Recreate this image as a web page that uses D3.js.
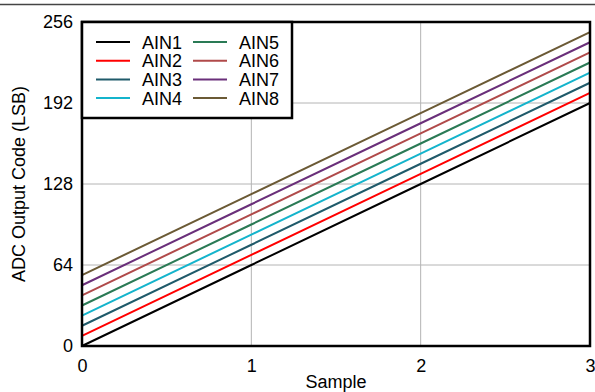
<!DOCTYPE html>
<html><head><meta charset="utf-8">
<script src="https://cdn.jsdelivr.net/npm/d3@7"></script>
<style>body{margin:0;background:#fff}svg{display:block;font-family:"Liberation Sans",Arial,sans-serif}</style>
</head><body><svg id="c" width="595" height="392"></svg>
<script>
const samples = [0, 1, 2, 3];
const seriesNames = ["AIN1","AIN2","AIN3","AIN4","AIN5","AIN6","AIN7","AIN8"];
const seriesColors = ["#000000","#ff0000","#1f5a6a","#14b4cc","#2a7a55","#b04a4a","#6a2f7a","#6b5a35"];
const AIN1 = [0, 64, 128, 192];
const AIN2 = [8, 72, 136, 200];
const AIN3 = [16, 80, 144, 208];
const AIN4 = [24, 88, 152, 216];
const AIN5 = [32, 96, 160, 224];
const AIN6 = [40, 104, 168, 232];
const AIN7 = [48, 112, 176, 240];
const AIN8 = [56, 120, 184, 248];
const seriesValues = [AIN1, AIN2, AIN3, AIN4, AIN5, AIN6, AIN7, AIN8];
const xTicks = [0, 1, 2, 3];
const yTicks = [0, 64, 128, 192, 256];

const svg = d3.select("#c");
const L = 82, R = 590, T = 22, B = 346;
const x = d3.scaleLinear().domain([0, 3]).range([L, R]);
const y = d3.scaleLinear().domain([0, 256]).range([B, T]);
const fs = 18;
const ff = "'Liberation Sans', Arial, sans-serif";

// top rule
svg.append("line").attr("x1", 0).attr("x2", 595).attr("y1", 4.5).attr("y2", 4.5)
  .attr("stroke", "#444").attr("stroke-width", 1.5);

// grid
svg.append("g").selectAll("line").data(xTicks.slice(1, -1)).join("line")
  .attr("x1", d => x(d)).attr("x2", d => x(d)).attr("y1", T).attr("y2", B)
  .attr("stroke", "#b4b4b4").attr("stroke-width", 1);
svg.append("g").selectAll("line").data(yTicks.slice(1, -1)).join("line")
  .attr("x1", L).attr("x2", R).attr("y1", d => y(d)).attr("y2", d => y(d))
  .attr("stroke", "#b4b4b4").attr("stroke-width", 1);

// series
const line = d3.line().x((d, i) => x(samples[i])).y(d => y(d));
svg.append("g").selectAll("path").data(seriesValues).join("path")
  .attr("d", d => line(d)).attr("fill", "none")
  .attr("stroke", (d, i) => seriesColors[i]).attr("stroke-width", 2);

// axes
const xAxis = svg.append("g").attr("transform", `translate(0,${B})`)
  .call(d3.axisBottom(x).tickValues(xTicks).tickSize(0).tickPadding(13).tickFormat(d3.format("d")));
const yAxis = svg.append("g").attr("transform", `translate(${L},0)`)
  .call(d3.axisLeft(y).tickValues(yTicks).tickSize(0).tickPadding(9).tickFormat(d3.format("d")));
[xAxis, yAxis].forEach(a => {
  a.select(".domain").remove();
  a.selectAll("text").attr("font-size", fs).attr("fill", "#000").attr("font-family", ff);
});

// frame
svg.append("rect").attr("x", L).attr("y", T).attr("width", R - L).attr("height", B - T)
  .attr("fill", "none").attr("stroke", "#000").attr("stroke-width", 2.5);

// axis titles
svg.append("text").attr("x", (L + R) / 2).attr("y", 388).attr("text-anchor", "middle")
  .attr("font-family", ff).attr("font-size", fs).text("Sample");
svg.append("text").attr("transform", `translate(25,${(T + B) / 2}) rotate(-90)`)
  .attr("text-anchor", "middle").attr("font-family", ff).attr("font-size", fs).text("ADC Output Code (LSB)");

// legend
const lg = svg.append("g");
lg.append("rect").attr("x", L).attr("y", T).attr("width", 210).attr("height", 96)
  .attr("fill", "#fff").attr("stroke", "#000").attr("stroke-width", 2.5);
seriesNames.forEach((n, i) => {
  const col = Math.floor(i / 4), row = i % 4;
  const lx = 96 + col * 97, ly = 42 + row * 18.7;
  lg.append("line").attr("x1", lx).attr("x2", lx + 34).attr("y1", ly).attr("y2", ly)
    .attr("stroke", seriesColors[i]).attr("stroke-width", 2);
  lg.append("text").attr("x", lx + 46).attr("y", ly + 6.5).attr("font-family", ff).attr("font-size", fs).text(n);
});
</script></body></html>
